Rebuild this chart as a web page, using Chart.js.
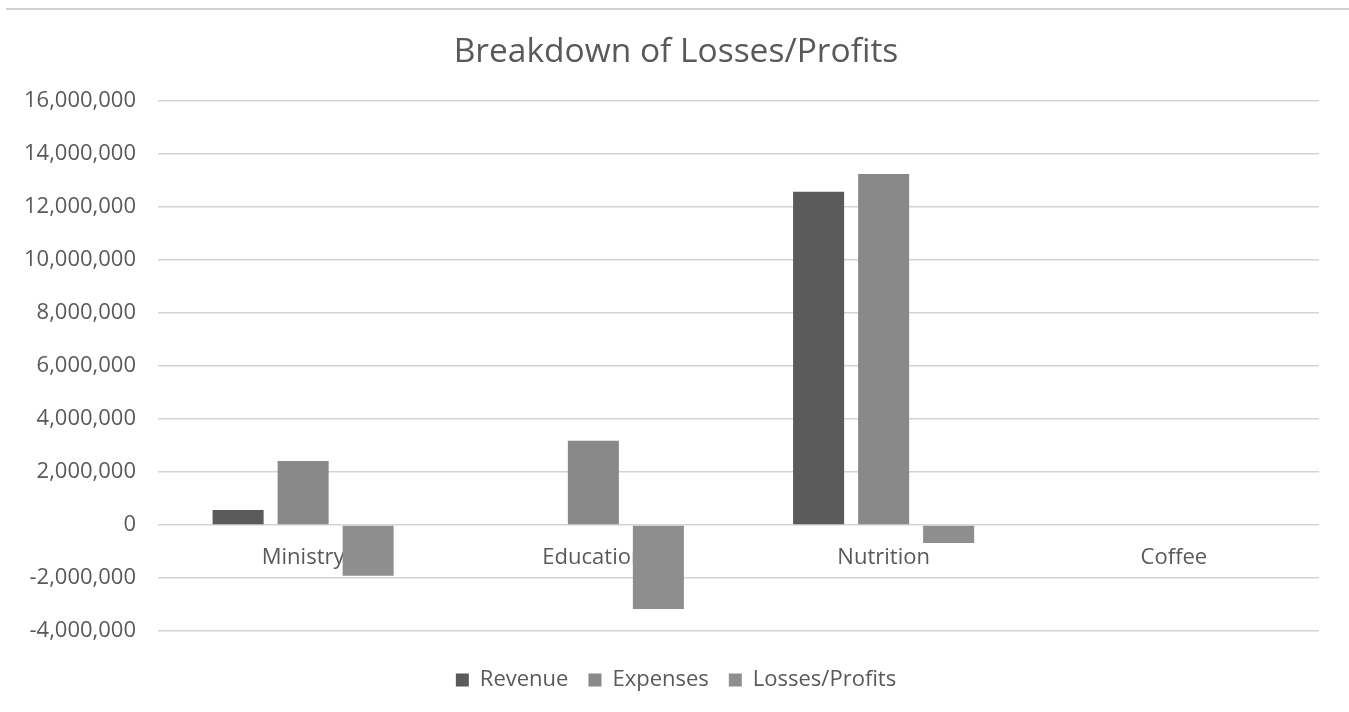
<!DOCTYPE html>
<html>
<head>
<meta charset="utf-8">
<script src="https://cdn.jsdelivr.net/npm/chart.js@4"></script>
<style>
  html, body { margin: 0; padding: 0; background: #fff; }
  #wrap { width: 1349px; height: 712px; position: relative; }
</style>
</head>
<body>
<div id="wrap"><canvas id="myChart" width="1349" height="712"></canvas></div>
<script>
const categories = ['Ministry', 'Education', 'Nutrition', 'Coffee'];
const revenue = [570000, 0, 12580000, 0];
const expenses = [2420000, 3180000, 13250000, 0];
const lossesProfits = [-1910000, -3170000, -680000, 0];

const textColor = '#595959';
const fontFamily = "'Open Sans', 'DejaVu Sans', sans-serif";

// light frame line along the top of the chart
const framePlugin = {
    id: 'frame',
    beforeDraw(chart) {
        const ctx = chart.ctx;
        ctx.save();
        ctx.strokeStyle = '#d0d0d0';
        ctx.lineWidth = 2;
        ctx.beginPath();
        ctx.moveTo(6, 9);
        ctx.lineTo(chart.width, 9);
        ctx.stroke();
        ctx.restore();
    }
};

const ctx = document.getElementById('myChart').getContext('2d');
new Chart(ctx, {
    type: 'bar',
    data: {
        labels: categories,
        datasets: [
            { label: 'Revenue', data: revenue, backgroundColor: '#5a5a5a' },
            { label: 'Expenses', data: expenses, backgroundColor: '#898989' },
            { label: 'Losses/Profits', data: lossesProfits, backgroundColor: '#8e8e8e' }
        ]
    },
    options: {
        responsive: false,
        animation: false,
        devicePixelRatio: 1,
        categoryPercentage: 0.672,
        barPercentage: 0.785,
        layout: { padding: { left: 20, right: 17, top: 32, bottom: 11 } },
        plugins: {
            title: {
                display: true,
                text: 'Breakdown of Losses/Profits',
                color: textColor,
                font: { family: fontFamily, size: 33.5, weight: 'normal' },
                padding: { top: 0, bottom: 29 }
            },
            legend: {
                position: 'bottom',
                title: { display: true, text: '', font: { size: 10 }, padding: { top: 6, bottom: 0 } },
                labels: {
                    color: textColor,
                    font: { family: fontFamily, size: 22 },
                    boxWidth: 13,
                    boxHeight: 13,
                    padding: 20
                }
            },
            tooltip: { enabled: false }
        },
        scales: {
            x: {
                position: { y: 0 },
                grid: { display: false, drawTicks: false },
                border: { display: false },
                ticks: {
                    color: textColor,
                    font: { family: fontFamily, size: 22 },
                    padding: 19
                }
            },
            y: {
                min: -4000000,
                max: 16000000,
                afterFit(scale) { scale.width = 138; },
                grid: { color: '#d4d4d4', lineWidth: 1.5, drawTicks: false },
                border: { display: false },
                ticks: {
                    stepSize: 2000000,
                    color: textColor,
                    font: { family: fontFamily, size: 22 },
                    padding: 22,
                    callback: (value) => Number(value).toLocaleString('en-US')
                }
            },
            // empty spacer on the right so the plot ends where the original does
            yRight: {
                position: 'right',
                afterFit(scale) { scale.width = 13; },
                grid: { display: false, drawTicks: false },
                border: { display: false },
                ticks: { display: false }
            }
        }
    },
    plugins: [framePlugin]
});
</script>
</body>
</html>
